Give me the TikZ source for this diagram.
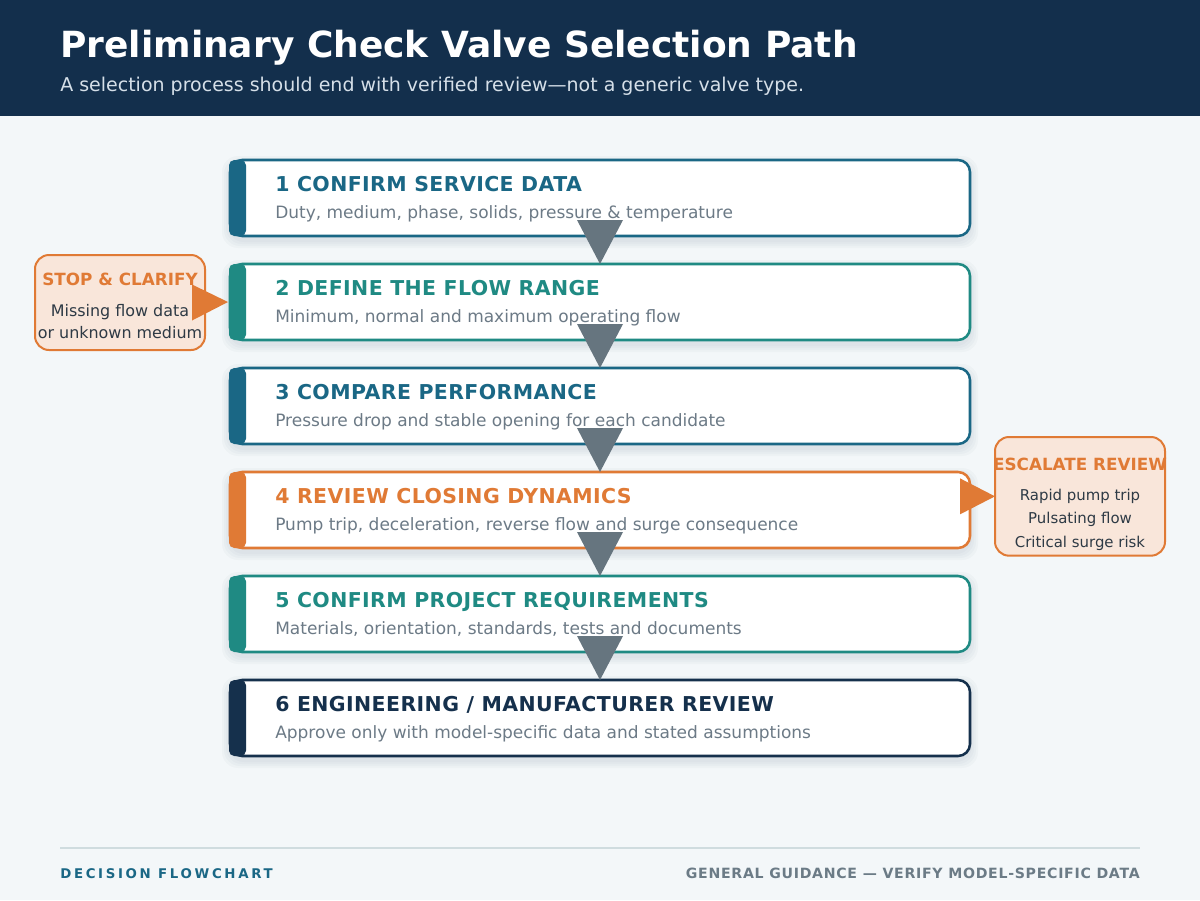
\documentclass[tikz,border=0pt]{standalone}
\usepackage{fontspec}
\setmainfont{DejaVu Sans}
\newfontfamily\headfont[LetterSpace=2]{DejaVu Sans}
\newfontfamily\footfont[LetterSpace=20]{DejaVu Sans}
\newfontfamily\notefont[LetterSpace=5]{DejaVu Sans}
\usetikzlibrary{calc}
\definecolor{headnavy}{HTML}{132F4C}
\definecolor{pagebg}{HTML}{F3F7F9}
\definecolor{stepblue}{HTML}{1A6785}
\definecolor{stepteal}{HTML}{1F8A83}
\definecolor{steporange}{HTML}{E07A35}
\definecolor{stepnavy}{HTML}{15304C}
\definecolor{arrowgray}{HTML}{66757F}
\definecolor{notegray}{HTML}{6C7A86}
\definecolor{calloutfill}{HTML}{F9E6DA}
\definecolor{callouttext}{HTML}{2E3A45}
\definecolor{subwhite}{HTML}{D5DFE8}
\definecolor{rulegray}{HTML}{CFDCDF}
\definecolor{footgray}{HTML}{6B7B86}
\begin{document}
\begin{tikzpicture}[x=0.75pt,y=-0.75pt,
	stepbox/.style={draw=#1,fill=white,line width=1.9pt,rounded corners=9pt,
		minimum width=555pt,minimum height=57pt,inner sep=0pt,outer sep=0pt,anchor=north west},
	softshadow/.style={fill=headnavy,fill opacity=0.025,rounded corners=12pt},
	steptitle/.style={anchor=base west,inner sep=0pt,text=#1,font=\headfont\bfseries\fontsize{15.35}{18}\selectfont},
	stepnote/.style={anchor=base west,inner sep=0pt,text=notegray,font=\fontsize{12.75}{15}\selectfont},
	callout/.style={draw=steporange,fill=calloutfill,line width=1.5pt,rounded corners=10.5pt,
		inner sep=0pt,outer sep=0pt,anchor=north west},
	callhead/.style={inner sep=0pt,anchor=base,text=steporange,font=\bfseries\fontsize{12.6}{14}\selectfont},
	callline/.style={inner sep=0pt,anchor=base,text=callouttext,font=\fontsize{#1}{14}\selectfont}]
\useasboundingbox (0,0) rectangle (1200,900);
\fill[pagebg] (0,0) rectangle (1200,900);
\fill[headnavy] (0,0) rectangle (1200,116);
\node[anchor=base west,inner sep=0pt,text=white,font=\bfseries\fontsize{27}{32}\selectfont] (title) at (60,57) {Preliminary Check Valve Selection Path};
\node[anchor=base west,inner sep=0pt,text=subwhite,font=\fontsize{14.25}{17}\selectfont] (subtitle) at (60,91) {A selection process should end with verified review---not a generic valve type.};
\foreach \n/\c in {1/stepblue,2/stepteal,3/stepblue,4/steporange,5/stepteal,6/stepnavy}{
	\foreach \k in {2,4,6,8}
		\fill[softshadow] (230-\k,{160+(\n-1)*104+4-\k}) rectangle ++(740+2*\k,76+2*\k);
	\node[stepbox=\c] (b\n) at (230,{160+(\n-1)*104}) {};
	\fill[\c,rounded corners=4pt] (b\n.north west) ++(-1,0) rectangle ++(17,76);
}
\foreach \n/\m in {1/2,2/3,3/4,4/5,5/6}
	\fill[arrowgray] (b\n.south) ++(-23,-16) -- ++(46,0) -- (b\m.north) -- cycle;
\foreach \n/\c/\t/\d in {
	1/stepblue/{CONFIRM SERVICE DATA}/{Duty, medium, phase, solids, pressure \& temperature},
	2/stepteal/{DEFINE THE FLOW RANGE}/{Minimum, normal and maximum operating flow},
	3/stepblue/{COMPARE PERFORMANCE}/{Pressure drop and stable opening for each candidate},
	4/steporange/{REVIEW CLOSING DYNAMICS}/{Pump trip, deceleration, reverse flow and surge consequence},
	5/stepteal/{CONFIRM PROJECT REQUIREMENTS}/{Materials, orientation, standards, tests and documents},
	6/stepnavy/{ENGINEERING / MANUFACTURER REVIEW}/{Approve only with model-specific data and stated assumptions}}{
	\node[steptitle=\c] (t\n) at ($(b\n.north west)+(45,31)$) {\n\ \t};
	\node[stepnote] (d\n) at ($(b\n.north west)+(45,58)$) {\d};
}
\node[callout,minimum width=127.5pt,minimum height=71.25pt] (stop) at (35,255) {};
\node[callhead] (stophead) at ($(stop.north)+(0,30)$) {STOP \& CLARIFY};
\node[callline=11.95] (stop1) at ($(stop.north)+(0,61)$) {Missing flow data};
\node[callline=11.95] (stop2) at ($(stop.north)+(0,83)$) {or unknown medium};
\fill[steporange] (stop.east) ++(-13,-18) -- ++(0,36) -- ($(b2.west)+(-2,0)$) -- cycle;
\node[callout,minimum width=127.5pt,minimum height=89pt] (esc) at (995,437) {};
\node[callhead] (eschead) at ($(esc.north)+(0,33)$) {ESCALATE REVIEW};
\node[callline=11.2] (esc1) at ($(esc.north)+(0,63)$) {Rapid pump trip};
\node[callline=11.2] (esc2) at ($(esc.north)+(0,86)$) {Pulsating flow};
\node[callline=11.2] (esc3) at ($(esc.north)+(0,110)$) {Critical surge risk};
\fill[steporange] ($(b4.east |- esc.west)+(-10,-18)$) -- ++(0,36) -- (esc.west) -- cycle;
\draw[rulegray,line width=1.5pt] (60,848) coordinate (rl) -- (1140,848) coordinate (rr);
\node[anchor=base west,inner sep=0pt,text=stepblue,font=\footfont\bfseries\fontsize{10}{12}\selectfont] (footl) at (60,878) {DECISION FLOWCHART};
\node[anchor=base east,inner sep=0pt,text=footgray,font=\notefont\bfseries\fontsize{10.6}{12}\selectfont] (footr) at (1140,878) {GENERAL GUIDANCE — VERIFY MODEL-SPECIFIC DATA};
\end{tikzpicture}
\end{document}
